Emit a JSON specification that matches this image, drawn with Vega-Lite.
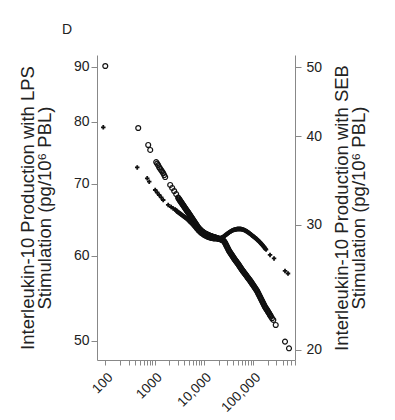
{"$schema":"https://vega.github.io/schema/vega-lite/v6.json","autosize":"none","width":198,"height":305,"padding":{"left":97,"top":55,"right":100,"bottom":60},"background":"white",
"title":{"text":"D","anchor":"start","frame":"group","dx":-35,"offset":18,"fontSize":14,"fontWeight":"normal","font":"Liberation Sans","color":"#222"},
"config":{"view":{"stroke":null},"axis":{"grid":false,"domainColor":"#888","tickColor":"#888","labelColor":"#222","titleColor":"#222","labelFont":"Liberation Sans","titleFont":"Liberation Sans","titleFontWeight":"normal"}},
"datasets":{
"lps":[{"dose":100,"il10":90.1},{"dose":467,"il10":78.9},{"dose":745,"il10":76.08},{"dose":818,"il10":75.27},{"dose":1082,"il10":73.35},{"dose":1134,"il10":73.1},{"dose":1188,"il10":72.86},{"dose":1245,"il10":72.53},{"dose":1305,"il10":72.31},{"dose":1367,"il10":72.08},{"dose":1433,"il10":71.86},{"dose":1501,"il10":71.63},{"dose":1573,"il10":71.33},{"dose":1648,"il10":71.03},{"dose":2082,"il10":69.84},{"dose":2285,"il10":69.39},{"dose":2509,"il10":68.94},{"dose":2755,"il10":68.49},{"dose":3024,"il10":67.96},{"dose":3169,"il10":67.73},{"dose":3320,"il10":67.51},{"dose":3479,"il10":67.3},{"dose":3646,"il10":67.09},{"dose":3820,"il10":66.88},{"dose":4002,"il10":66.67},{"dose":4194,"il10":66.46},{"dose":4394,"il10":66.25},{"dose":4604,"il10":66.04},{"dose":4824,"il10":65.84},{"dose":5055,"il10":65.63},{"dose":5297,"il10":65.42},{"dose":5550,"il10":65.21},{"dose":5815,"il10":65.0},{"dose":6093,"il10":64.79},{"dose":6385,"il10":64.58},{"dose":6690,"il10":64.37},{"dose":7010,"il10":64.17},{"dose":7345,"il10":63.96},{"dose":7696,"il10":63.75},{"dose":8064,"il10":63.61},{"dose":8449,"il10":63.47},{"dose":8853,"il10":63.33},{"dose":9276,"il10":63.19},{"dose":9720,"il10":63.12},{"dose":10184,"il10":63.01},{"dose":10672,"il10":62.94},{"dose":11182,"il10":62.88},{"dose":11716,"il10":62.81},{"dose":12277,"il10":62.74},{"dose":12865,"il10":62.68},{"dose":13480,"il10":62.61},{"dose":14124,"il10":62.57},{"dose":14800,"il10":62.53},{"dose":15507,"il10":62.48},{"dose":16249,"il10":62.44},{"dose":17026,"il10":62.4},{"dose":17840,"il10":62.35},{"dose":18693,"il10":62.31},{"dose":19586,"il10":62.27},{"dose":20523,"il10":62.22},{"dose":21504,"il10":62.18},{"dose":22532,"il10":62.14},{"dose":23609,"il10":62.08},{"dose":24737,"il10":62.02},{"dose":25920,"il10":61.89},{"dose":27159,"il10":61.68},{"dose":28458,"il10":61.41},{"dose":29818,"il10":61.15},{"dose":31243,"il10":60.89},{"dose":32737,"il10":60.63},{"dose":34302,"il10":60.44},{"dose":35941,"il10":60.24},{"dose":37660,"il10":60.05},{"dose":39460,"il10":59.86},{"dose":41347,"il10":59.66},{"dose":43323,"il10":59.47},{"dose":45394,"il10":59.31},{"dose":47565,"il10":59.14},{"dose":49839,"il10":58.97},{"dose":52221,"il10":58.78},{"dose":54717,"il10":58.59},{"dose":57333,"il10":58.4},{"dose":60074,"il10":58.21},{"dose":62946,"il10":58.05},{"dose":65955,"il10":57.89},{"dose":69108,"il10":57.72},{"dose":72412,"il10":57.56},{"dose":75873,"il10":57.39},{"dose":79501,"il10":57.22},{"dose":83301,"il10":57.06},{"dose":87284,"il10":56.91},{"dose":91457,"il10":56.73},{"dose":95827,"il10":56.55},{"dose":100407,"il10":56.37},{"dose":105209,"il10":56.19},{"dose":110239,"il10":56.01},{"dose":115510,"il10":55.83},{"dose":121039,"il10":55.65},{"dose":126827,"il10":55.41},{"dose":132893,"il10":55.18},{"dose":139246,"il10":54.94},{"dose":145906,"il10":54.71},{"dose":152882,"il10":54.47},{"dose":160194,"il10":54.24},{"dose":167851,"il10":54.01},{"dose":175881,"il10":53.78},{"dose":184285,"il10":53.6},{"dose":193091,"il10":53.43},{"dose":202329,"il10":53.24},{"dose":212000,"il10":53.06},{"dose":222137,"il10":52.86},{"dose":232754,"il10":52.67},{"dose":243880,"il10":52.49},{"dose":259145,"il10":52.3},{"dose":289877,"il10":51.74},{"dose":447530,"il10":49.93},{"dose":539448,"il10":49.22},
{"dose":3095,"il10":67.85},{"dose":3244,"il10":67.62},{"dose":3399,"il10":67.41},{"dose":3561,"il10":67.2},{"dose":3732,"il10":66.99},{"dose":3910,"il10":66.78},{"dose":4097,"il10":66.57},{"dose":4293,"il10":66.36},{"dose":4498,"il10":66.15},{"dose":4713,"il10":65.94},{"dose":4938,"il10":65.74},{"dose":5174,"il10":65.53},{"dose":5422,"il10":65.32},{"dose":5681,"il10":65.11},{"dose":5952,"il10":64.9},{"dose":6237,"il10":64.69},{"dose":6536,"il10":64.48},{"dose":6848,"il10":64.27},{"dose":7176,"il10":64.07},{"dose":7518,"il10":63.86},{"dose":7878,"il10":63.68},{"dose":8254,"il10":63.54},{"dose":8649,"il10":63.4},{"dose":9062,"il10":63.26},{"dose":9495,"il10":63.16},{"dose":9950,"il10":63.07},{"dose":10425,"il10":62.98},{"dose":10924,"il10":62.91},{"dose":11446,"il10":62.85},{"dose":11993,"il10":62.78},{"dose":12567,"il10":62.71},{"dose":13169,"il10":62.65},{"dose":13799,"il10":62.59},{"dose":14458,"il10":62.55},{"dose":15150,"il10":62.51},{"dose":15874,"il10":62.46},{"dose":16633,"il10":62.42},{"dose":17429,"il10":62.38},{"dose":18262,"il10":62.33},{"dose":19135,"il10":62.29},{"dose":20049,"il10":62.25},{"dose":21008,"il10":62.2},{"dose":22012,"il10":62.16},{"dose":23064,"il10":62.11},{"dose":24167,"il10":62.05},{"dose":25322,"il10":61.96},{"dose":26533,"il10":61.79},{"dose":27801,"il10":61.55},{"dose":29131,"il10":61.28},{"dose":30523,"il10":61.02},{"dose":31981,"il10":60.76},{"dose":33511,"il10":60.54},{"dose":35112,"il10":60.34},{"dose":36791,"il10":60.15},{"dose":38550,"il10":59.96},{"dose":40393,"il10":59.76},{"dose":42324,"il10":59.57},{"dose":44347,"il10":59.39},{"dose":46467,"il10":59.23},{"dose":48690,"il10":59.06},{"dose":51017,"il10":58.88},{"dose":53455,"il10":58.69},{"dose":56010,"il10":58.5},{"dose":58688,"il10":58.31},{"dose":61494,"il10":58.13},{"dose":64434,"il10":57.97},{"dose":67514,"il10":57.81},{"dose":70742,"il10":57.64},{"dose":74124,"il10":57.48},{"dose":77667,"il10":57.31},{"dose":81380,"il10":57.14},{"dose":85270,"il10":56.99},{"dose":89348,"il10":56.82},{"dose":93619,"il10":56.64},{"dose":98092,"il10":56.46},{"dose":102780,"il10":56.28},{"dose":107698,"il10":56.1},{"dose":112845,"il10":55.92},{"dose":118242,"il10":55.74},{"dose":123900,"il10":55.53},{"dose":129825,"il10":55.3},{"dose":136033,"il10":55.06},{"dose":142537,"il10":54.83},{"dose":149355,"il10":54.59},{"dose":156500,"il10":54.36},{"dose":163981,"il10":54.13},{"dose":171817,"il10":53.9},{"dose":180037,"il10":53.69},{"dose":188645,"il10":53.52},{"dose":197656,"il10":53.34},{"dose":207110,"il10":53.15},{"dose":217011,"il10":52.96},{"dose":227384,"il10":52.77}],
"seb":[{"dose":91.1,"il10":41.18},{"dose":445.7,"il10":36.15},{"dose":711,"il10":34.9},{"dose":780.6,"il10":34.52},{"dose":1033,"il10":33.6},{"dose":1134,"il10":33.33},{"dose":1245,"il10":33.06},{"dose":1367,"il10":32.8},{"dose":1501,"il10":32.53},{"dose":1896,"il10":32.01},{"dose":2181,"il10":31.8},{"dose":2395,"il10":31.65},{"dose":2629,"il10":31.54},{"dose":2755,"il10":31.44},{"dose":2887,"il10":31.34},{"dose":3024,"il10":31.26},{"dose":3169,"il10":31.19},{"dose":3320,"il10":31.11},{"dose":3479,"il10":31.04},{"dose":3646,"il10":30.96},{"dose":3820,"il10":30.89},{"dose":4002,"il10":30.81},{"dose":4194,"il10":30.74},{"dose":4394,"il10":30.66},{"dose":4604,"il10":30.59},{"dose":4824,"il10":30.49},{"dose":5055,"il10":30.39},{"dose":5297,"il10":30.29},{"dose":5550,"il10":30.19},{"dose":5815,"il10":30.1},{"dose":6093,"il10":30.0},{"dose":6385,"il10":29.87},{"dose":6690,"il10":29.76},{"dose":7010,"il10":29.63},{"dose":7345,"il10":29.52},{"dose":7696,"il10":29.42},{"dose":8064,"il10":29.32},{"dose":8449,"il10":29.23},{"dose":8853,"il10":29.15},{"dose":9276,"il10":29.09},{"dose":9720,"il10":29.02},{"dose":10184,"il10":28.97},{"dose":10672,"il10":28.92},{"dose":11182,"il10":28.87},{"dose":11716,"il10":28.82},{"dose":12277,"il10":28.79},{"dose":12865,"il10":28.76},{"dose":13480,"il10":28.73},{"dose":14124,"il10":28.7},{"dose":14800,"il10":28.68},{"dose":15507,"il10":28.67},{"dose":16249,"il10":28.67},{"dose":17026,"il10":28.67},{"dose":17840,"il10":28.67},{"dose":18693,"il10":28.67},{"dose":19586,"il10":28.68},{"dose":20523,"il10":28.7},{"dose":21504,"il10":28.73},{"dose":22532,"il10":28.76},{"dose":23609,"il10":28.81},{"dose":24737,"il10":28.85},{"dose":25920,"il10":28.92},{"dose":27159,"il10":28.99},{"dose":28458,"il10":29.07},{"dose":29818,"il10":29.14},{"dose":31243,"il10":29.21},{"dose":32737,"il10":29.28},{"dose":34302,"il10":29.34},{"dose":35941,"il10":29.4},{"dose":37660,"il10":29.46},{"dose":39460,"il10":29.5},{"dose":41347,"il10":29.53},{"dose":43323,"il10":29.56},{"dose":45394,"il10":29.58},{"dose":47565,"il10":29.6},{"dose":49839,"il10":29.61},{"dose":52221,"il10":29.61},{"dose":54717,"il10":29.61},{"dose":57333,"il10":29.6},{"dose":60074,"il10":29.58},{"dose":62946,"il10":29.55},{"dose":65955,"il10":29.52},{"dose":69108,"il10":29.47},{"dose":72412,"il10":29.42},{"dose":75873,"il10":29.36},{"dose":79501,"il10":29.3},{"dose":83301,"il10":29.23},{"dose":87284,"il10":29.15},{"dose":91457,"il10":29.08},{"dose":95827,"il10":29.0},{"dose":100407,"il10":28.93},{"dose":105209,"il10":28.85},{"dose":110239,"il10":28.78},{"dose":115510,"il10":28.7},{"dose":121039,"il10":28.62},{"dose":126827,"il10":28.54},{"dose":132893,"il10":28.44},{"dose":139246,"il10":28.35},{"dose":145906,"il10":28.25},{"dose":152882,"il10":28.15},{"dose":160194,"il10":28.04},{"dose":167851,"il10":27.93},{"dose":175881,"il10":27.81},{"dose":184285,"il10":27.7},{"dose":222137,"il10":27.22},{"dose":267760,"il10":26.91},{"dose":447530,"il10":25.84},{"dose":514840,"il10":25.63},
{"dose":2820,"il10":31.39},{"dose":2955,"il10":31.3},{"dose":3095,"il10":31.23},{"dose":3244,"il10":31.15},{"dose":3399,"il10":31.08},{"dose":3561,"il10":31.0},{"dose":3732,"il10":30.93},{"dose":3910,"il10":30.85},{"dose":4097,"il10":30.78},{"dose":4293,"il10":30.7},{"dose":4498,"il10":30.63},{"dose":4713,"il10":30.54},{"dose":4938,"il10":30.44},{"dose":5174,"il10":30.34},{"dose":5422,"il10":30.24},{"dose":5681,"il10":30.15},{"dose":5952,"il10":30.05},{"dose":6237,"il10":29.94},{"dose":6536,"il10":29.82},{"dose":6848,"il10":29.7},{"dose":7176,"il10":29.58},{"dose":7518,"il10":29.47},{"dose":7878,"il10":29.37},{"dose":8254,"il10":29.28},{"dose":8649,"il10":29.19},{"dose":9062,"il10":29.12},{"dose":9495,"il10":29.06},{"dose":9950,"il10":29.0},{"dose":10425,"il10":28.95},{"dose":10924,"il10":28.9},{"dose":11446,"il10":28.85},{"dose":11993,"il10":28.81},{"dose":12567,"il10":28.78},{"dose":13169,"il10":28.75},{"dose":13799,"il10":28.72},{"dose":14458,"il10":28.69},{"dose":15150,"il10":28.68},{"dose":15874,"il10":28.67},{"dose":16633,"il10":28.67},{"dose":17429,"il10":28.67},{"dose":18262,"il10":28.67},{"dose":19135,"il10":28.68},{"dose":20049,"il10":28.69},{"dose":21008,"il10":28.72},{"dose":22012,"il10":28.75},{"dose":23064,"il10":28.79},{"dose":24167,"il10":28.83},{"dose":25322,"il10":28.89},{"dose":26533,"il10":28.96},{"dose":27801,"il10":29.03},{"dose":29131,"il10":29.11},{"dose":30523,"il10":29.18},{"dose":31981,"il10":29.25},{"dose":33511,"il10":29.31},{"dose":35112,"il10":29.37},{"dose":36791,"il10":29.43},{"dose":38550,"il10":29.48},{"dose":40393,"il10":29.52},{"dose":42324,"il10":29.55},{"dose":44347,"il10":29.57},{"dose":46467,"il10":29.59},{"dose":48690,"il10":29.61},{"dose":51017,"il10":29.61},{"dose":53455,"il10":29.61},{"dose":56010,"il10":29.61},{"dose":58688,"il10":29.59},{"dose":61494,"il10":29.57},{"dose":64434,"il10":29.54},{"dose":67514,"il10":29.5},{"dose":70742,"il10":29.45},{"dose":74124,"il10":29.39},{"dose":77667,"il10":29.33},{"dose":81380,"il10":29.27},{"dose":85270,"il10":29.19},{"dose":89348,"il10":29.12},{"dose":93619,"il10":29.04},{"dose":98092,"il10":28.97},{"dose":102780,"il10":28.89},{"dose":107698,"il10":28.82},{"dose":112845,"il10":28.74},{"dose":118242,"il10":28.66},{"dose":123900,"il10":28.58},{"dose":129825,"il10":28.49},{"dose":136033,"il10":28.4},{"dose":142537,"il10":28.3},{"dose":149355,"il10":28.2},{"dose":156500,"il10":28.1},{"dose":163981,"il10":27.99},{"dose":171817,"il10":27.87},{"dose":180037,"il10":27.76}]},
"encoding":{"x":{"field":"dose","type":"quantitative","scale":{"type":"log","domain":[67.9,714000],"nice":false},
"axis":{"title":null,"values":[100,200,300,400,500,600,700,800,900,1000,2000,3000,4000,5000,6000,7000,8000,9000,10000,20000,30000,40000,50000,60000,70000,80000,90000,100000,200000,300000,400000,500000,600000,700000],
"labelExpr":"datum.value==100?'100':datum.value==1000?'1000':datum.value==10000?'10,000':datum.value==100000?'100,000':''","labelAngle":-45,"labelOverlap":false,"labelFontSize":13.5,"tickSize":5,"labelPadding":5}}},
"layer":[
{"data":{"name":"lps"},"mark":{"type":"point","shape":"circle","filled":false,"stroke":"#111","strokeWidth":1.2,"size":24,"opacity":1},
"encoding":{"y":{"field":"il10","type":"quantitative","scale":{"type":"log","domain":[48.0,92.25],"nice":false,"zero":false},
"axis":{"orient":"left","values":[50,60,70,80,90],"tickSize":6,"labelFontSize":14,"labelPadding":2,"title":["Interleukin-10 Production with LPS","Stimulation (pg/10⁶ PBL)"],"titleFontSize":18.5,"titleLineHeight":17,"titlePadding":19}}}},
{"data":{"name":"seb"},"mark":{"type":"point","shape":"cross","filled":true,"color":"#111","size":20,"opacity":1},
"encoding":{"y":{"field":"il10","type":"quantitative","scale":{"type":"log","domain":[19.36,52.06],"nice":false,"zero":false},
"axis":{"orient":"right","values":[20,30,40,50],"tickSize":6,"labelFontSize":14,"labelPadding":5,"title":["Interleukin-10 Production with SEB","Stimulation (pg/10⁶ PBL)"],"titleAngle":-90,"titleFontSize":18.5,"titleLineHeight":17,"titlePadding":13}}}}],
"resolve":{"scale":{"y":"independent"}}}
